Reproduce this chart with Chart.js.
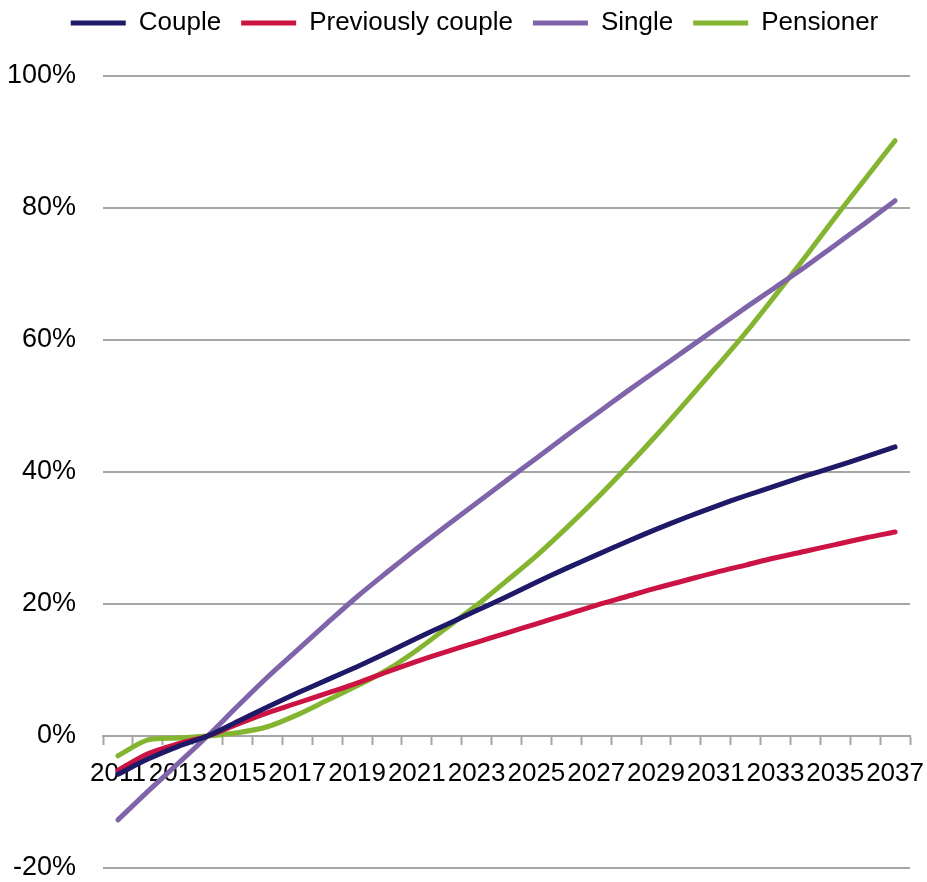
<!DOCTYPE html>
<html>
<head>
<meta charset="utf-8">
<script src="https://cdn.jsdelivr.net/npm/chart.js@4.4.1/dist/chart.umd.min.js"></script>
<style>
  html, body { margin: 0; padding: 0; background: #fff; }
  #wrap { width: 927px; height: 882px; }
</style>
</head>
<body>
<div id="wrap"><canvas id="myChart"></canvas></div>
<script>
const years = ['2011', '2012', '2013', '2014', '2015', '2016', '2017', '2018', '2019', '2020',
  '2021', '2022', '2023', '2024', '2025', '2026', '2027', '2028', '2029', '2030',
  '2031', '2032', '2033', '2034', '2035', '2036', '2037'];

const couple = [-5.8, -3.5, -1.6, 0, 2.2, 4.4, 6.5, 8.5, 10.5, 12.6,
  14.8, 16.9, 19.0, 21.1, 23.3, 25.4, 27.4, 29.4, 31.3, 33.1,
  34.8, 36.4, 37.9, 39.4, 40.8, 42.3, 43.8];

const previouslyCouple = [-5.2, -2.7, -1.2, 0, 1.8, 3.5, 5.0, 6.5, 8.0, 9.7,
  11.3, 12.8, 14.2, 15.6, 17.0, 18.4, 19.8, 21.1, 22.4, 23.6,
  24.8, 25.9, 27.0, 28.0, 29.0, 30.0, 30.9];

const single = [-12.7, -8.4, -4.2, 0, 4.5, 8.9, 13.0, 17.1, 21.1, 24.8,
  28.4, 31.9, 35.3, 38.7, 42.1, 45.5, 48.8, 52.1, 55.3, 58.5,
  61.7, 64.9, 68.0, 71.1, 74.4, 77.7, 81.1];

const pensioner = [-3.0, -0.6, -0.3, 0, 0.5, 1.4, 3.2, 5.4, 7.6, 10.0,
  13.0, 16.4, 19.8, 23.5, 27.3, 31.5, 35.9, 40.6, 45.5, 50.6,
  55.8, 61.1, 66.8, 72.6, 78.6, 84.4, 90.2];

const yTicks = [-20, 0, 20, 40, 60, 80, 100];

const font = 'Liberation Sans, Arial, sans-serif';
const gridGrey = '#a6a6a6';

const series = [
  { label: 'Couple', data: couple, color: '#1e1a68' },
  { label: 'Previously couple', data: previouslyCouple, color: '#cb1443' },
  { label: 'Single', data: single, color: '#8064aa' },
  { label: 'Pensioner', data: pensioner, color: '#84b531' }
];

// push the plot down below the legend and nudge the legend a bit right
const legendMargin = {
  id: 'legendMargin',
  beforeInit(chart) {
    const fit = chart.legend.fit;
    chart.legend.fit = function () {
      fit.bind(chart.legend)();
      this.height += 30;
    };
  },
  afterLayout(chart) {
    chart.legend.left += 11;
    chart.legend.right += 11;
  }
};

const ctx = document.getElementById('myChart').getContext('2d');
new Chart(ctx, {
  type: 'line',
  data: {
    labels: years,
    datasets: series.map(s => ({
      label: s.label,
      data: s.data,
      borderColor: s.color,
      backgroundColor: s.color,
      borderWidth: 5,
      borderCapStyle: 'round',
      borderJoinStyle: 'round',
      pointRadius: 0,
      pointHoverRadius: 0,
      tension: 0.3,
      fill: false
    }))
  },
  options: {
    responsive: true,
    maintainAspectRatio: false,
    animation: false,
    layout: { padding: { left: 0, right: 0, top: -10, bottom: 0 } },
    plugins: {
      legend: {
        position: 'top',
        labels: {
          usePointStyle: true,
          pointStyle: 'line',
          pointStyleWidth: 55,
          boxHeight: 5,
          padding: 20,
          color: '#000',
          font: { family: font, size: 26 }
        }
      },
      tooltip: { enabled: false }
    },
    scales: {
      x: {
        type: 'category',
        offset: true,
        position: { y: 0 },
        afterFit: axis => {
          // axis sits on the 0% line, so it should not take room from the plot
          axis.height = 0;
          axis.paddingLeft = 0;
          axis.paddingRight = 17;
          axis.paddingTop = 0;
          axis.paddingBottom = 0;
        },
        grid: {
          offset: true,
          drawOnChartArea: false,
          drawTicks: true,
          tickLength: 8,
          tickWidth: 2,
          tickColor: gridGrey
        },
        border: { display: true, color: gridGrey, width: 2 },
        ticks: {
          autoSkip: false,
          maxRotation: 0,
          minRotation: 0,
          padding: 14,
          color: '#000',
          font: { family: font, size: 26 },
          callback: (v, i) => (i % 2 === 0 ? years[i] : '')
        }
      },
      y: {
        min: yTicks[0],
        max: yTicks[yTicks.length - 1],
        afterBuildTicks: axis => { axis.ticks = yTicks.map(v => ({ value: v })); },
        afterFit: axis => {
          axis.width = 103;
          axis.paddingTop = 14;
          axis.paddingBottom = 14;
        },
        grid: { color: gridGrey, lineWidth: 2, drawTicks: false },
        border: { display: false },
        ticks: {
          padding: 27,
          color: '#000',
          font: { family: font, size: 27 },
          callback: v => v + '%'
        }
      }
    }
  },
  plugins: [legendMargin]
});
</script>
</body>
</html>
